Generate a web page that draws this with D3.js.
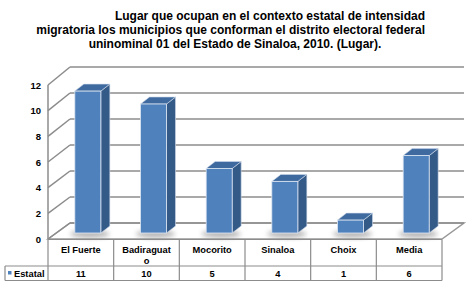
<!DOCTYPE html>
<html><head><meta charset="utf-8">
<script src="https://cdn.jsdelivr.net/npm/d3@7"></script>
<style>body{margin:0;background:#fff}svg{display:block}text{font-family:"Liberation Sans",Arial,sans-serif;font-weight:bold}</style>
</head><body><svg id="c" width="471" height="287"></svg>
<script>
const titleLines = ["Lugar que ocupan en el contexto estatal de intensidad",
  "migratoria los municipios que conforman el distrito electoral federal",
  "uninominal 01 del Estado de Sinaloa, 2010. (Lugar)."];
const categories = ["El Fuerte","Badiraguato","Mocorito","Sinaloa","Choix","Media"];
const headerLabels = [["El Fuerte"],["Badiraguat","o"],["Mocorito"],["Sinaloa"],["Choix"],["Media"]];
const seriesName = "Estatal";
const values = [11,10,5,4,1,6];
const yTicks = [0,2,4,6,8,10,12];

const svg = d3.select("#c");
const left = 48, right = 442, depthX = 22, depthY = -16;
const x = d3.scaleBand().domain(categories).range([left, right]);
const yFront = d3.scaleLinear().domain([0,12]).range([239, 85]);
const yBack = d3.scaleLinear().domain([0,12]).range([239+depthY, 85+depthY-2]);
const yBar = d3.scaleLinear().domain([0,12]).range([233, 233-12*12.9]);

// title
const tpos = [{x:425,a:"end",y:20},{x:425,a:"end",y:34},{x:235,a:"middle",y:48}];
svg.selectAll(".title").data(titleLines).join("text")
  .attr("x",(d,i)=>tpos[i].x).attr("y",(d,i)=>tpos[i].y)
  .attr("text-anchor",(d,i)=>tpos[i].a).attr("font-size",12).attr("fill","#000").text(d=>d);

const defs = svg.append("defs");
const f = defs.append("filter").attr("id","blur").attr("x","-50%").attr("y","-50%").attr("width","200%").attr("height","200%");
f.append("feGaussianBlur").attr("stdDeviation",2.5);

const bx0 = left+depthX, bx1 = right+depthX;
// floor
svg.append("path").attr("d",`M${left},${yFront(0)}L${bx0},${yBack(0)}L${bx1},${yBack(0)}L${right},${yFront(0)}Z`)
  .attr("fill","#fff").attr("stroke","#999").attr("stroke-width",1.5);
// grid: back wall & left wall
yTicks.forEach(v=>{
  svg.append("line").attr("x1",bx0).attr("x2",bx1).attr("y1",yBack(v)).attr("y2",yBack(v))
    .attr("stroke","#8c8c8c").attr("stroke-width",1.5);
  svg.append("line").attr("x1",left).attr("x2",bx0).attr("y1",yFront(v)).attr("y2",yBack(v))
    .attr("stroke","#8c8c8c").attr("stroke-width",1.5);
});
svg.append("line").attr("x1",left).attr("x2",left).attr("y1",yFront(0)).attr("y2",yFront(12))
  .attr("stroke","#8c8c8c").attr("stroke-width",1.5);

// y labels
svg.selectAll(".yl").data(yTicks).join("text").attr("x",41).attr("y",v=>yFront(v)+3.5)
  .attr("text-anchor","end").attr("font-size",9.5).attr("fill","#000").text(v=>v);

// bars
const bw = 26, dx = 9, dy = -7;
categories.forEach((c,i)=>{
  const cx = x(c)+x.bandwidth()/2+7;
  const x0 = cx-bw/2, x1 = cx+bw/2, yb = yBar(0), yt = yBar(values[i]);
  svg.append("ellipse").attr("cx",cx+2).attr("cy",yb+1).attr("rx",bw*0.75).attr("ry",4)
    .attr("fill","#888").attr("opacity",0.6).attr("filter","url(#blur)");
  svg.append("path").attr("d",`M${x1},${yb}L${x1+dx},${yb+dy}L${x1+dx},${yt+dy}L${x1},${yt}Z`)
    .attr("fill","#345a88").attr("stroke","#cfd9e8").attr("stroke-width",0.6);
  svg.append("path").attr("d",`M${x0},${yt}L${x0+dx},${yt+dy}L${x1+dx},${yt+dy}L${x1},${yt}Z`)
    .attr("fill","#3e6aa0").attr("stroke","#cfd9e8").attr("stroke-width",0.6);
  svg.append("rect").attr("x",x0).attr("y",yt).attr("width",bw).attr("height",yb-yt)
    .attr("fill","#4f81bd").attr("stroke","#dde6f2").attr("stroke-width",0.8);
});

// table
const tTop = 239.5, tMid = 266, tBot = 280.5, tLeft = 5;
const g = svg.append("g").attr("stroke","#8c8c8c").attr("stroke-width",1.2);
g.append("line").attr("x1",left).attr("x2",right).attr("y1",tTop).attr("y2",tTop);
g.append("line").attr("x1",tLeft).attr("x2",right).attr("y1",tMid).attr("y2",tMid);
g.append("line").attr("x1",tLeft).attr("x2",right).attr("y1",tBot).attr("y2",tBot);
g.append("line").attr("x1",tLeft).attr("x2",tLeft).attr("y1",tMid).attr("y2",tBot);
const cols = categories.map(c=>x(c)).concat([right]);
cols.forEach(cx=>g.append("line").attr("x1",cx).attr("x2",cx).attr("y1",tTop).attr("y2",tBot));

categories.forEach((c,i)=>{
  const cx = x(c)+x.bandwidth()/2;
  headerLabels[i].forEach((t,j)=>{
    svg.append("text").attr("x",cx).attr("y",252.5+j*11).attr("text-anchor","middle")
      .attr("font-size",9.3).attr("fill","#000").text(t);
  });
  svg.append("text").attr("x",cx).attr("y",276.5).attr("text-anchor","middle")
    .attr("font-size",9.3).attr("fill","#000").text(values[i]);
});
svg.append("rect").attr("x",8).attr("y",271).attr("width",3.5).attr("height",3.5).attr("fill","#4f81bd");
svg.append("text").attr("x",14).attr("y",276.5).attr("font-size",9.3).attr("fill","#000").text(seriesName);
</script></body></html>
